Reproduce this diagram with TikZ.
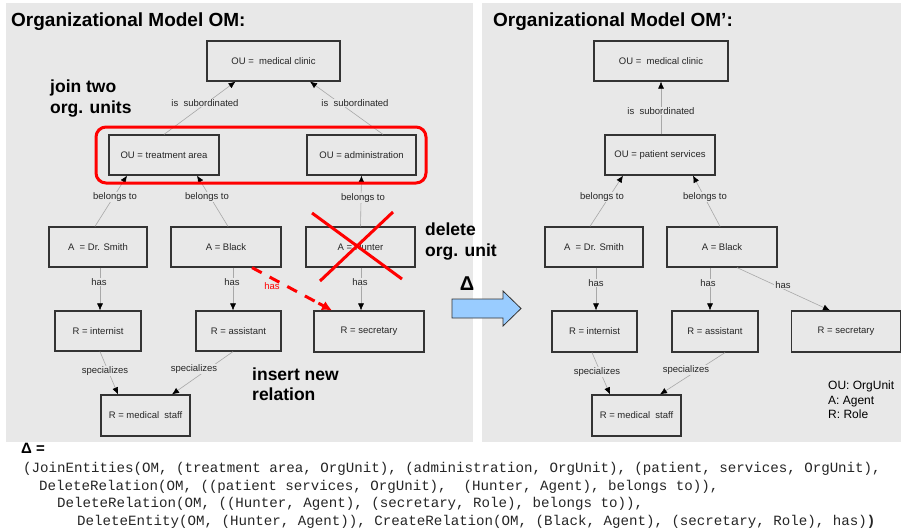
\documentclass[tikz,border=0pt]{standalone}
\usepackage{fontspec}
\setmainfont{Liberation Sans}
\newfontfamily\codefont{Liberation Mono}
\usetikzlibrary{arrows.meta,calc}
\definecolor{bg}{HTML}{E8E8E8}
\definecolor{boxline}{HTML}{333333}
\definecolor{edgecol}{HTML}{A8A8A8}
\definecolor{arrowblue}{HTML}{99CCFF}
\definecolor{alarm}{HTML}{FF0000}
\begin{document}
\begin{tikzpicture}[x=1pt,y=-1pt,
  box/.style={draw=boxline, line width=1.2pt, inner sep=0pt, minimum height=40pt, text=black!85, font=\fontsize{9.5}{11}\selectfont},
  lbl/.style={fill=bg, inner sep=1pt, text=black!85, font=\fontsize{9.5}{11}\selectfont},
  rlbl/.style={inner sep=1pt, text=alarm, font=\fontsize{9.5}{11}\selectfont},
  rel/.style={draw=edgecol, line width=0.6pt, -{Latex[length=7pt,width=6pt,color=black]}},
  reddash/.style={draw=alarm, line width=3pt, dash pattern=on 11pt off 9pt},
  redtip/.style={draw=alarm, line width=3pt, -{Latex[length=10pt,width=10pt]}},
  note/.style={font=\fontsize{17.5}{21}\selectfont\bfseries, anchor=base west, inner sep=0pt},
  title/.style={font=\fontsize{19}{23}\selectfont\bfseries, anchor=base west, inner sep=0pt},
  legend/.style={font=\fontsize{12}{14}\selectfont, anchor=base west, inner sep=0pt},
  code/.style={font=\codefont\fontsize{14.15}{17}\selectfont, text=black!85, anchor=base west, inner sep=0pt}]
\useasboundingbox (0,0) rectangle (901,530);
\fill[white] (0,0) rectangle (901,530);
% panels
\fill[bg] (6,3) rectangle (473,442);
\fill[bg] (482,3) rectangle (901,442);

% titles
\node[title] (t1) at (11,27) {Organizational Model OM:};
\node[title] (t2) at (493,27) {Organizational Model OM’:};

% ---------- left model ----------
\node[box, minimum width=133pt] (clinic) at (273.5,61) {OU = \ medical clinic};
\node[box, minimum width=110pt] (tarea) at (164,155) {OU = treatment area};
\node[box, minimum width=109pt] (admin) at (361.5,155) {OU = administration};
\node[box, minimum width=98pt] (smith) at (98,247) {A \ = Dr. Smith};
\node[box, minimum width=110pt] (black) at (226,247) {A = Black};
\node[box, minimum width=109pt] (hunter) at (360.5,247) {A = Hunter};
\node[box, minimum width=86pt] (intern) at (98,331) {R = internist};
\node[box, minimum width=85pt] (assist) at (238.5,331) {R = assistant};
\node[box, minimum width=110pt, minimum height=41pt] (secr) at (369,331.5) {R = secretary};
\node[box, minimum width=89pt, minimum height=41pt] (mstaff) at (145.5,415.5) {R = medical \ staff};

\draw[rel] (tarea.north) -- ([xshift=-38pt]clinic.south);
\draw[rel] ([xshift=21.5pt]admin.north) -- ([xshift=36.5pt]clinic.south);
\draw[rel] ([xshift=-3pt]smith.north) -- ([xshift=-37pt]tarea.south);
\draw[rel] ([xshift=2pt]black.north) -- ([xshift=33pt]tarea.south);
\draw[rel] (hunter.north) -- (admin.south);
\draw[rel] ([xshift=2pt]smith.south) -- ([xshift=2pt]intern.north);
\draw[rel] ([xshift=7pt]black.south) -- ([xshift=-5.5pt]assist.north);
\draw[rel] ([xshift=0.5pt]hunter.south) -- ([xshift=-8pt]secr.north);
\draw[rel] ([xshift=2pt]intern.south) -- ([xshift=-27.5pt]mstaff.north);
\draw[rel] ([xshift=-5.5pt]assist.south) -- ([xshift=26.5pt]mstaff.north);

\node[lbl] (l1) at (205,103) {is \ subordinated};
\node[lbl] (l2) at (355,103) {is \ subordinated};
\node[lbl] (l3) at (115,197) {belongs to};
\node[lbl] (l4) at (207,197) {belongs to};
\node[lbl] (l5) at (363,198) {belongs to};
\node[lbl] (l6) at (99,282) {has};
\node[lbl] (l7) at (232,282) {has};
\node[lbl] (l8) at (360,282) {has};
\node[lbl] (l9) at (105,371) {specializes};
\node[lbl] (l10) at (194,369) {specializes};

% red annotations
\draw[alarm, line width=3pt, rounded corners=10pt] (96,127) rectangle (426,183);
\coordinate (rs) at ([xshift=26pt]black.south);
\coordinate (re) at ([xshift=-37pt]secr.north);
\draw[reddash] (rs) -- ($(rs)!0.8!(re)$);
\draw[redtip] ($(rs)!0.83!(re)$) -- (re);
\node[rlbl] (rh) at (272,286) {has};
\draw[alarm, line width=3pt] (312,213) -- (402,279);
\draw[alarm, line width=3pt] (320,281) -- (393,212);

\node[note] (n1) at (50,92) {join two};
\node[note] (n2) at (50,113) {org. units};
\node[note] (n3) at (425,235) {delete};
\node[note] (n4) at (425,256) {org. unit};
\node[note] (n5) at (252,380) {insert new};
\node[note] (n6) at (252,400) {relation};

% delta arrow
\draw[fill=arrowblue, draw=boxline, line width=0.8pt] (452,299) -- (503,299) -- (503,291) -- (521,308.5) -- (503,326) -- (503,318) -- (452,318) -- cycle;
\node[font=\fontsize{20}{24}\selectfont\bfseries, inner sep=0pt] (d1) at (467,284) {Δ};

% ---------- right model ----------
\node[box, minimum width=134pt] (clinicB) at (661,61) {OU = \ medical clinic};
\node[box, minimum width=110pt] (pserv) at (660,155) {OU = patient services};
\node[box, minimum width=98pt] (smithB) at (594,247) {A \ = Dr. Smith};
\node[box, minimum width=110pt] (blackB) at (722,247) {A = Black};
\node[box, minimum width=85pt, minimum height=41pt] (internB) at (594.5,331.5) {R = internist};
\node[box, minimum width=86pt, minimum height=41pt] (assistB) at (715,331.5) {R = assistant};
\node[box, minimum width=109pt, minimum height=41pt] (secrB) at (846,331.5) {R = secretary};
\node[box, minimum width=89pt, minimum height=41pt] (mstaffB) at (636.5,415.5) {R = medical \ staff};

\draw[rel] ([xshift=1pt]pserv.north) -- (clinicB.south);
\draw[rel] ([xshift=-4pt]smithB.north) -- ([xshift=-37pt]pserv.south);
\draw[rel] ([xshift=-2pt]blackB.north) -- ([xshift=33pt]pserv.south);
\draw[rel] ([xshift=2pt]smithB.south) -- ([xshift=1.5pt]internB.north);
\draw[rel] ([xshift=-12pt]blackB.south) -- ([xshift=-5pt]assistB.north);
\draw[rel] ([xshift=15pt]blackB.south) -- ([xshift=-16pt]secrB.north);
\draw[rel] ([xshift=-2.5pt]internB.south) -- ([xshift=-26.5pt]mstaffB.north);
\draw[rel] ([xshift=10pt]assistB.south) -- ([xshift=23.5pt]mstaffB.north);

\node[lbl] (r1) at (661,111) {is \ subordinated};
\node[lbl] (r2) at (602,197) {belongs to};
\node[lbl] (r3) at (705,197) {belongs to};
\node[lbl] (r4) at (596,283) {has};
\node[lbl] (r5) at (708,283) {has};
\node[lbl] (r6) at (783,285) {has};
\node[lbl] (r7) at (597,372) {specializes};
\node[lbl] (r8) at (686,370) {specializes};

\node[legend] (g1) at (828,389) {OU: OrgUnit};
\node[legend] (g2) at (828,404) {A: Agent};
\node[legend] (g3) at (828,418.5) {R: Role};

% ---------- delta expression ----------
\node[font=\fontsize{15}{17}\selectfont\bfseries, anchor=base west, inner sep=0pt] (d2) at (21,453) {Δ =};
\node[code] (c1) at (23,472.7) {(JoinEntities(OM, (treatment area, OrgUnit), (administration, OrgUnit), (patient, services, OrgUnit),};
\node[code] (c2) at (39,490.2) {DeleteRelation(OM, ((patient services, OrgUnit),\ \ (Hunter, Agent), belongs to)),};
\node[code] (c3) at (57,507.7) {DeleteRelation(OM, ((Hunter, Agent), (secretary, Role), belongs to)),};
\node[code] (c4) at (77,525.2) {DeleteEntity(OM, (Hunter, Agent)), CreateRelation(OM, (Black, Agent), (secretary, Role), has)\textbf{)}};
\end{tikzpicture}
\end{document}
